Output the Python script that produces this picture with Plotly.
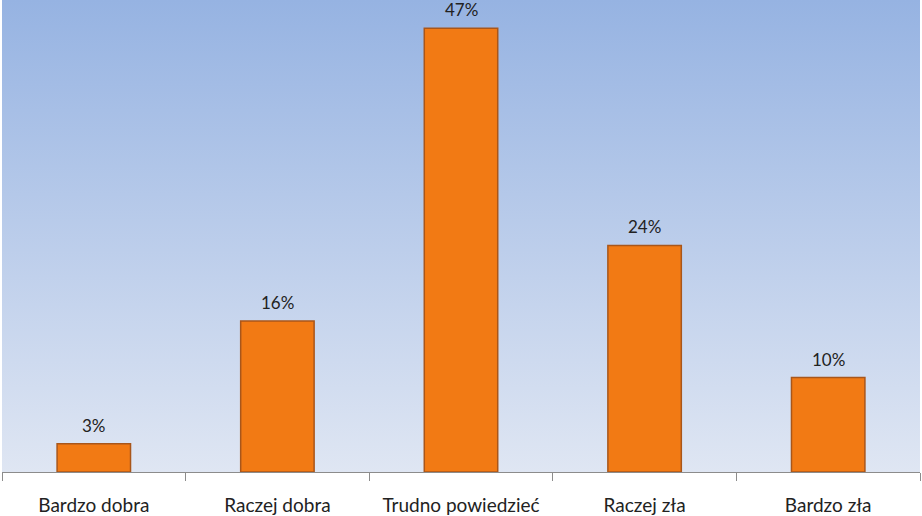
import base64
import plotly.graph_objects as go

categories = ["Bardzo dobra", "Raczej dobra", "Trudno powiedzieć", "Raczej zła", "Bardzo zła"]
values = [3, 16, 47, 24, 10]
labels = ["3%", "16%", "47%", "24%", "10%"]

svg = ('<svg xmlns="http://www.w3.org/2000/svg" width="100" height="100" preserveAspectRatio="none">'
       '<defs><linearGradient id="g" x1="0" y1="0" x2="0" y2="1">'
       '<stop offset="0" stop-color="#96b3e2"/><stop offset="1" stop-color="#dfe6f3"/>'
       '</linearGradient></defs><rect width="100" height="100" fill="url(#g)"/></svg>')
src = "data:image/svg+xml;base64," + base64.b64encode(svg.encode()).decode()

FONT = "Lato, Open Sans, sans-serif"

fig = go.Figure()
fig.add_trace(go.Bar(
    x=categories, y=values,
    marker=dict(color="#f27a14", line=dict(color="#a9561a", width=1.5)),
    width=0.4,
))
for c, v, t in zip(categories, values, labels):
    fig.add_annotation(x=c, y=v, text=t, showarrow=False, yanchor="bottom", yshift=6,
                       font=dict(family=FONT, size=17, color="#222222"))
fig.update_layout(
    width=922, height=516,
    margin=dict(l=2, r=2, t=0, b=44, pad=0),
    paper_bgcolor="white", plot_bgcolor="rgba(0,0,0,0)",
    showlegend=False,
    images=[dict(source=src, xref="paper", yref="paper", x=0, y=1, sizex=1, sizey=1,
                 sizing="stretch", layer="below", xanchor="left", yanchor="top")],
    xaxis=dict(showline=True, linecolor="#8c8c8c", linewidth=1, ticks="outside",
               tickson="boundaries", ticklen=8, tickcolor="#8c8c8c",
               ticklabelstandoff=16, automargin=False,
               tickfont=dict(family=FONT, size=19, color="#222222"),
               showgrid=False),
    yaxis=dict(range=[0, 50], visible=False, showgrid=False, automargin=False),
)
fig.write_html("out.html", config={"displayModeBar": False},
               post_script="document.body.style.margin='0';document.body.style.overflow='hidden';")
